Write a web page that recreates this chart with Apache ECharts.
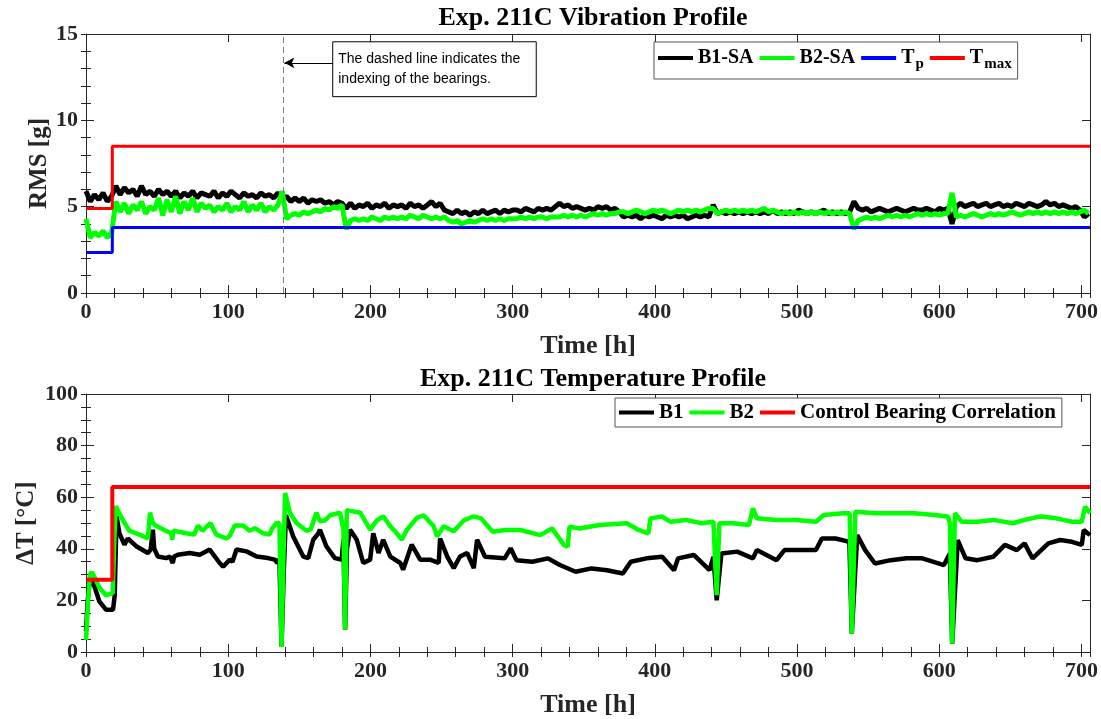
<!DOCTYPE html>
<html>
<head>
<meta charset="utf-8">
<script src="https://cdn.jsdelivr.net/npm/echarts@6/dist/echarts.min.js"></script>
<style>html,body{margin:0;padding:0;background:#fff}#c{width:1101px;height:719px}</style>
</head>
<body>
<div id="c"></div>
<script>
// ---------- DATA ----------
const rmsHours = [0,3,6,9,12,15,18,21,24,27,30,33,36,39,42,45,48,51,54,57,60,63,66,69,72,75,78,81,84,87,90,93,96,99,102,105,108,111,114,117,120,123,126,129,132,135,138,141,144,147,150,153,156,159,162,165,168,171,174,177,180,183,186,189,192,195,198,201,204,207,210,213,216,219,222,225,228,231,234,237,240,243,246,249,252,255,258,261,264,267,270,273,276,279,282,285,288,291,294,297,300,303,306,309,312,315,318,321,324,327,330,333,336,339,342,345,348,351,354,357,360,363,366,369,372,375,378,381,384,387,390,393,396,399,402,405,408,411,414,417,420,423,426,429,432,435,438,441,444,447,450,453,456,459,462,465,468,471,474,477,480,483,486,489,492,495,498,501,504,507,510,513,516,519,522,525,528,531,534,537,540,543,546,549,552,555,558,561,564,567,570,573,576,579,582,585,588,591,594,597,600,603,606,609,612,615,618,621,624,627,630,633,636,639,642,645,648,651,654,657,660,663,666,669,672,675,678,681,684,687,690,693,696,699,702,705];

const rmsB1 = [
5.9,5.3,5.7,5.4,5.8,5.3,5.6,
6.2,5.7,6.1,5.8,6.0,5.6,6.2,5.7,5.9,5.6,6.0,5.7,5.9,5.6,
5.9,5.5,5.8,5.6,5.9,5.5,5.8,5.7,5.6,5.9,5.5,5.8,5.6,5.9,5.7,5.5,5.8,5.6,5.7,5.5,5.8,5.6,5.7,5.5,5.8,
5.4,
5.6,5.3,5.5,5.3,5.5,5.2,5.4,5.3,5.4,5.2,5.3,5.1,5.3,5.2,
4.9,5.2,4.9,5.1,5.0,5.2,4.9,5.1,5.0,5.2,4.9,5.1,5.0,5.1,4.9,5.2,5.0,5.1,4.9,5.1,
5.3,5.0,5.2,4.8,
4.7,4.6,4.8,4.6,4.7,4.5,4.7,4.6,4.8,4.6,4.7,4.8,4.6,4.8,4.7,4.8,
4.8,4.7,4.9,4.8,4.7,4.9,4.8,4.9,4.8,5.0,
5.2,5.0,5.1,4.9,5.0,
4.9,4.8,4.9,4.8,5.0,4.9,5.0,4.8,4.9,4.7,
4.4,4.5,4.4,4.5,4.3,4.5,4.4,4.5,4.4,4.3,4.5,4.4,4.5,4.4,4.5,4.3,4.4,4.5,4.4,4.5,4.4,
5.1,
4.6,4.7,4.6,4.7,4.6,4.7,4.6,4.7,4.6,
4.7,4.6,4.7,4.6,4.8,4.6,4.7,4.6,4.7,4.6,4.8,4.7,4.6,4.7,4.6,4.7,4.8,4.6,4.7,4.6,4.7,4.6,4.7,
5.3,4.9,
4.8,4.9,4.7,4.8,4.9,4.8,4.7,4.8,4.9,4.8,4.7,4.8,4.9,4.8,4.8,4.9,4.8,4.7,4.9,4.8,4.9,
4.0,5.0,
5.2,5.0,5.1,5.2,5.0,5.1,5.2,5.0,5.1,5.2,5.0,5.1,5.0,5.2,5.1,5.0,5.2,5.1,5.0,5.1,5.3,5.1,5.2,5.0,5.1,5.0,
4.9,5.0,4.8,4.4,4.6];

const rmsB2 = [
4.3,3.2,3.5,3.3,3.6,3.2,3.5,
5.3,4.7,5.2,4.6,5.1,4.8,5.3,4.6,5.0,4.8,5.5,4.5,5.4,4.7,5.6,4.6,5.3,4.8,5.5,4.7,5.2,4.9,5.1,4.7,5.0,4.8,5.2,4.7,5.0,4.8,5.3,4.7,5.1,4.8,5.2,4.7,5.0,4.8,5.1,
5.9,4.3,
4.5,4.6,4.5,4.7,4.6,4.7,4.8,4.7,4.9,4.8,5.0,4.9,5.1,
3.7,
4.2,4.3,4.2,4.3,4.2,4.4,4.3,4.2,4.4,4.3,4.4,4.3,4.4,4.3,4.5,4.4,4.3,4.5,4.4,
4.3,4.4,4.3,4.4,
4.2,4.1,4.2,4.0,4.1,4.2,4.1,4.2,4.3,4.2,4.3,4.2,4.3,4.2,4.3,4.3,
4.3,4.4,4.3,4.4,4.3,4.4,4.4,4.3,4.4,4.4,
4.4,4.5,4.4,4.5,4.4,
4.5,4.4,4.5,4.6,4.5,4.6,4.5,4.6,4.6,4.7,
4.7,4.6,4.7,4.8,4.7,4.6,4.7,4.8,4.7,4.8,4.7,4.6,4.7,4.8,4.7,4.8,4.7,4.8,4.7,4.8,4.9,
4.9,
4.6,4.7,4.8,4.7,4.8,4.7,4.8,4.7,4.8,
4.7,4.8,4.9,4.7,4.8,4.7,4.6,4.7,4.6,4.7,4.6,4.7,4.6,4.7,4.6,4.7,4.6,4.7,4.6,4.7,4.6,4.7,4.6,
3.7,4.2,
4.3,4.4,4.3,4.4,4.3,4.4,4.5,4.4,4.5,4.4,4.5,4.4,4.5,4.6,4.5,4.6,4.5,4.6,4.5,4.6,4.6,
5.8,4.4,
4.5,4.4,4.5,4.6,4.5,4.4,4.5,4.6,4.5,4.6,4.5,4.6,4.7,4.6,4.5,4.6,4.7,4.6,4.7,4.6,4.7,4.6,4.7,4.6,4.7,4.6,
4.7,4.6,4.7,4.8,4.6];

const rmsTp   = [[0,2.35],[18.5,2.35],[18.5,3.8],[706,3.8]];
const rmsTmax = [[0,4.9],[18.5,4.9],[18.5,8.5],[706,8.5]];

const tempB1 = [[0,8],[1.2,20],[2.8,28.7],[5.9,25.5],[9.4,19.6],[14,16.4],[19,16.4],[20.2,22],[21.5,52.6],[23.5,46],[27,41.6],[29.4,44],[35.3,41],[43.5,38.4],[45.5,39.7],[47,47.4],[48,40],[50.5,37],[56.4,36.4],[59,37],[61,34.5],[62,37],[64.6,37.7],[73,38.4],[80,37.7],[87,39.7],[94,34.5],[96.4,33],[101,35.8],[103,35],[105.8,39.7],[112.8,39],[120,37],[128,36.4],[132.8,35.8],[134.5,34.5],[136,36],[137.5,2],[139,30],[140.6,53],[145.7,44.8],[152.8,37],[156.3,36.4],[159.8,43.5],[163.4,46],[164.5,47.4],[169,41],[175,36.4],[179.8,35.8],[181,43.5],[182.2,8.6],[183.5,40],[185.7,47.4],[190.4,43.5],[195,34.5],[199.8,35.8],[202,46],[205.7,38.4],[209,43.5],[214,37],[221,34.5],[223,31.9],[229,41.6],[235,35.8],[242,35.8],[248,34.5],[249,44],[254,37],[258.6,32.5],[263,37],[268,38.4],[272.7,32.5],[275,43.5],[280.6,36.9],[294.4,36.3],[298.6,40.2],[302.7,35.6],[313.8,35],[324.9,36.3],[333.2,33.7],[344.3,31.1],[355.4,32.4],[366.4,31.7],[377.5,30.4],[383.1,35],[394.1,36.3],[405.2,36.9],[413.5,31.7],[416.3,36.3],[427.4,37.6],[438.5,31.7],[441.2,36.9],[443.5,20],[446.8,38.2],[457.9,38.9],[469,36.3],[471.7,39.5],[485.6,35.6],[491.1,39.5],[507.7,39.5],[513.3,39.5],[517.4,44],[527.1,44],[536.8,42.7],[538.5,7.1],[542.3,45.3],[547.9,39.5],[554.8,34.3],[565.9,35.6],[577,36.3],[588.1,36.3],[603.3,33.7],[607.4,38.2],[609.1,3.2],[613,43.4],[618.5,36.3],[626.8,35.6],[637.9,36.9],[646.2,41.5],[654.5,39.5],[660,42.1],[665.6,36.3],[676.7,42.1],[685,43.4],[693.3,42.7],[700.2,41.5],[701.6,47.3],[706,45.3]];

const tempB2 = [[0,4.7],[1.5,20],[2.8,30],[4,31],[6,29],[9.4,25],[14,22],[17,22.5],[18.8,23],[20,45],[21,56.5],[26,51],[30.5,47],[37.6,45.5],[43.5,44],[45,54],[47,50],[49,49],[56,47],[60,46],[60.6,43.5],[61.5,47],[70.5,46],[76,45.5],[78.7,49],[82,47],[87.4,50],[91.7,45.5],[98.7,44],[101,45],[104.6,49],[110.5,49],[115,47],[118.7,48],[124.6,46],[129,45.5],[131,48],[134,50],[136,50],[137.5,2],[139,40],[140,61.6],[143.4,54],[148,50],[155,47],[158,47.5],[162,54],[164.5,50.7],[168,51],[171.6,53],[178.7,54],[181,47.4],[182.2,8.6],[183.4,55],[188,54.5],[192.8,54],[196,51],[199.8,47.4],[204.5,51],[209,52.6],[214,48.7],[218.6,46],[222,43.5],[225.7,47.4],[232.7,52],[237.4,53],[244.5,48.7],[246.8,44.8],[251.5,48.7],[258.6,46.8],[265.6,51],[272.7,52.6],[277.8,51.8],[286,46.6],[294.4,47.3],[305.5,47.3],[319.4,45.3],[327.7,47.9],[336,41.5],[338.7,40.8],[340,48.6],[347,47.9],[361,49.2],[380.3,49.9],[388.6,47.3],[395.5,46],[396.9,51.8],[405.2,52.5],[410.8,50.5],[421.8,51.2],[432.9,49.9],[441.2,50.5],[443.5,22],[445.4,49.9],[455,49.9],[466.2,49.2],[469,55.7],[471.7,51.8],[485.6,51.2],[499.4,51.2],[513.3,50.5],[518.8,53.1],[532.6,53.8],[537,53.8],[538.5,7.1],[541,54.4],[554.8,53.8],[568.7,53.8],[582.5,53.8],[596.4,53.1],[606,52.5],[607.5,50],[609.1,3.2],[611,53.8],[615.7,50.5],[626.8,50.5],[637.9,51.2],[651.8,49.9],[660,51.2],[671.1,52.5],[682.2,51.8],[693.3,50.5],[700.2,50.5],[702.5,56.3],[706,53.8]];

const tempControl = [[0,28],[18.5,28],[18.5,64],[706,64]];

const X_MAX = 706;
const indexLineHour = 138.5;
const noteBox = [[173.5,14.55],[316.6,11.37]];
const noteArrow = [[173.5,13.33],[139.5,13.33]];
const noteText = 'The dashed line indicates the\nindexing of the bearings.';

if (rmsB1.length !== rmsHours.length || rmsB2.length !== rmsHours.length) {
  throw new Error('length mismatch ' + rmsB1.length + ' ' + rmsB2.length + ' ' + rmsHours.length);
}

// ---------- CHART ----------
const SERIF = '"Liberation Serif","Times New Roman",serif';
const AX = '#262626';
const chart = echarts.init(document.getElementById('c'), null, {renderer:'canvas'});

function axisSet(dim, gi, min, max, major, minor, name, nameGap, nameSize) {
  const common = {type:'value', gridIndex:gi, min:min, max:max, splitLine:{show:false}};
  const line = {show:true, onZero:false, lineStyle:{color:AX, width:1}};
  const posA = dim === 'x' ? 'bottom' : 'left';
  const posB = dim === 'x' ? 'top' : 'right';
  return [
    Object.assign({}, common, {position:posA, interval:major, axisLine:line,
      axisTick:{show:true, inside:true, length:8, lineStyle:{color:AX}},
      axisLabel:{show:true, showMaxLabel: dim === 'y', color:AX, fontFamily:SERIF, fontWeight:'bold', fontSize:22, margin:8},
      name:name, nameLocation:'middle', nameGap:nameGap, nameMoveOverlap:false,
      nameTextStyle:{color:AX, fontFamily:SERIF, fontWeight:'bold', fontSize:nameSize}}),
    Object.assign({}, common, {position:posA, interval:minor, axisLine:{show:false},
      axisTick:{show:true, inside:true, length:5, lineStyle:{color:AX}}, axisLabel:{show:false}}),
    Object.assign({}, common, {position:posB, interval:major, axisLine:line,
      axisTick:{show:true, inside:true, length:8, lineStyle:{color:AX}}, axisLabel:{show:false}}),
    Object.assign({}, common, {position:posB, interval:minor, axisLine:{show:false},
      axisTick:{show:true, inside:true, length:5, lineStyle:{color:AX}}, axisLabel:{show:false}})
  ];
}

const xAxes = axisSet('x',0,0,X_MAX,100,20,'Time [h]',40,26).concat(axisSet('x',1,0,X_MAX,100,20,'Time [h]',40,26));
const yAxes = axisSet('y',0,0,15,5,1,'RMS [g]',34,25).concat(axisSet('y',1,0,100,20,5,'ΔT [°C]',47,25));

const legendText = {color:'#000', fontFamily:SERIF, fontWeight:'bold', fontSize:20,
  rich:{m:{color:'#000', fontFamily:SERIF, fontWeight:'bold', fontSize:20},
        s:{color:'#000', fontFamily:SERIF, fontWeight:'bold', fontSize:15, padding:[13,0,0,1]}}};
const legendText2 = {color:'#000', fontFamily:SERIF, fontWeight:'bold', fontSize:21};

function lineSeries(name, data, color, width, gi, extra) {
  return Object.assign({type:'line', name:name, data:data, xAxisIndex:gi*4, yAxisIndex:gi*4,
    showSymbol:false, symbol:'none', animation:false, lineStyle:{color:color, width:width}, itemStyle:{color:color}}, extra || {});
}

const option = {
  animation:false,
  backgroundColor:'#fff',
  title:[
    {text:'Exp. 211C Vibration Profile', left:588, top:0, textAlign:'center',
      textStyle:{fontFamily:SERIF, fontWeight:'bold', fontSize:26, color:'#000'}},
    {text:'Exp. 211C Temperature Profile', left:588, top:361, textAlign:'center',
      textStyle:{fontFamily:SERIF, fontWeight:'bold', fontSize:26, color:'#000'}}
  ],
  grid:[
    {left:86, right:11, top:34, height:259},
    {left:86, right:11, top:394, height:258}
  ],
  xAxis:xAxes,
  yAxis:yAxes,
  legend:[
    {data:['B1-SA','B2-SA','Tp','Tmax'], left:654, top:42, orient:'horizontal',
      icon:'rect', itemWidth:35, itemHeight:4, itemGap:6, padding:[6,6,7,4],
      borderColor:'#555', borderWidth:1, backgroundColor:'#fff',
      formatter:function(n){ if(n==='Tp') return '{m|T}{s|p}'; if(n==='Tmax') return '{m|T}{s|max}'; return '{m|'+n+'}'; },
      textStyle:legendText},
    {data:['B1','B2','Control Bearing Correlation'], left:615, top:398, orient:'horizontal',
      icon:'rect', itemWidth:35, itemHeight:4, itemGap:6, padding:[4,6,4,4],
      borderColor:'#555', borderWidth:1, backgroundColor:'#fff',
      textStyle:legendText2}
  ],
  series:[
    lineSeries('B1-SA', rmsHours.map((t,i)=>[t, rmsB1[i]]), '#000000', 5, 0, {
      markLine:{silent:true, symbol:'none', animation:false, label:{show:false},
        data:[
          [{coord:[indexLineHour,0], lineStyle:{color:'#7f7f7f', type:[6,4], width:1}}, {coord:[indexLineHour,15]}],
          [{coord:noteArrow[0], symbol:'none', lineStyle:{color:'#000', type:'solid', width:1}},
           {coord:noteArrow[1], symbol:'arrow', symbolSize:[8,10]}]
        ]},
      markArea:{silent:true,
        itemStyle:{color:'#fff', borderColor:'#000', borderWidth:1},
        label:{show:true, position:'insideLeft', distance:6, formatter:noteText,
          fontFamily:'"Liberation Sans",Arial,sans-serif', fontSize:14, lineHeight:20, color:'#000'},
        data:[[{coord:noteBox[0]},{coord:noteBox[1]}]]}
    }),
    lineSeries('B2-SA', rmsHours.map((t,i)=>[t, rmsB2[i]]), '#00ff00', 5, 0),
    lineSeries('Tp', rmsTp, '#0000ff', 3, 0),
    lineSeries('Tmax', rmsTmax, '#ff0000', 3, 0),
    lineSeries('B1', tempB1, '#000000', 4.5, 1),
    lineSeries('B2', tempB2, '#00ff00', 4.5, 1),
    lineSeries('Control Bearing Correlation', tempControl, '#ff0000', 4, 1)
  ]
};
chart.setOption(option);
</script>
</body>
</html>
